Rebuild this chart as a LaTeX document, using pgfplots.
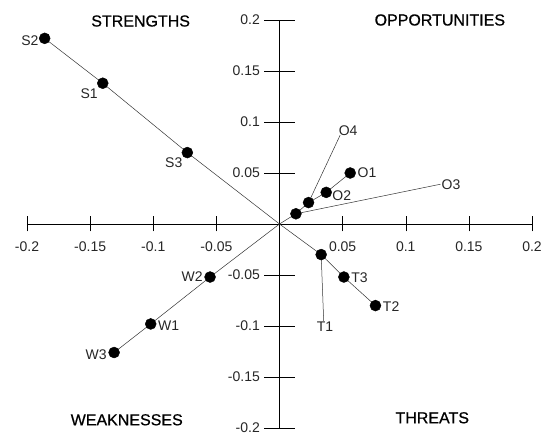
\documentclass[border=0pt]{standalone}
\usepackage{pgfplots}
\pgfplotsset{compat=1.18}
\usepackage{fontspec}
\setmainfont{Liberation Sans}
\newfontfamily\titlefont[FakeBold=0.6]{Liberation Sans}
\begin{document}
\begin{tikzpicture}
\begin{axis}[name=ax, scale only axis, width=505pt, height=408pt,
 xmin=-0.2,xmax=0.2,ymin=-0.2,ymax=0.2,
 axis lines=middle, axis line style={line width=0.5pt,-},
 xtick={-0.2,-0.15,-0.1,-0.05,0.05,0.1,0.15,0.2},
 ytick={-0.2,-0.15,-0.1,-0.05,0.05,0.1,0.15,0.2},
 tick align=center,
 xtick style={/pgfplots/major tick length=15pt, line width=0.5pt, black},
 ytick style={/pgfplots/major tick length=30pt, line width=0.5pt, black},
 /pgf/number format/fixed, /pgf/number format/assume math mode=true,
 ticklabel style={font=\fontsize{14}{16}\selectfont, text=black!85},
 xticklabel style={yshift=-12pt},
 yticklabel style={xshift=-14pt},
 clip=false]
% group lines from origin
\addplot[black!80, line width=0.5pt] coordinates {(0,0) (-0.073,0.070) (-0.140,0.138) (-0.186,0.182)};
\addplot[black!80, line width=0.5pt] coordinates {(0,0) (-0.055,-0.052) (-0.102,-0.098) (-0.131,-0.126)};
\addplot[black!80, line width=0.5pt] coordinates {(0,0) (0.013,0.010) (0.023,0.021) (0.037,0.031) (0.056,0.050)};
\addplot[black!80, line width=0.5pt] coordinates {(0,0) (0.033,-0.030) (0.051,-0.052) (0.076,-0.080)};
% leader lines
\addplot[black!80, line width=0.5pt] coordinates {(0.023,0.021) (0.048,0.087)};
\addplot[black!80, line width=0.5pt] coordinates {(0.013,0.010) (0.1275,0.039)};
\addplot[black!80, line width=0.5pt] coordinates {(0.033,-0.030) (0.035,-0.095)};
% points
\addplot[only marks, mark=*, mark size=5.5pt, black] coordinates {
(-0.073,0.070) (-0.140,0.138) (-0.186,0.182)
(-0.055,-0.052) (-0.102,-0.098) (-0.131,-0.126)
(0.013,0.010) (0.023,0.021) (0.037,0.031) (0.056,0.050)
(0.033,-0.030) (0.051,-0.052) (0.076,-0.080)};
% point labels
\begin{scope}[every node/.style={font=\fontsize{14}{16}\selectfont, text=black!85, inner sep=1pt}]
\node[anchor=east] at (axis cs:-0.190,0.180) {S2};
\node[anchor=north east] at (axis cs:-0.143,0.134) {S1};
\node[anchor=north east] at (axis cs:-0.076,0.066) {S3};
\node[anchor=east] at (axis cs:-0.060,-0.052) {W2};
\node[anchor=west] at (axis cs:-0.097,-0.100) {W1};
\node[anchor=east] at (axis cs:-0.136,-0.128) {W3};
\node[anchor=west] at (axis cs:0.061,0.050) {O1};
\node[anchor=west] at (axis cs:0.041,0.028) {O2};
\node[anchor=south west] at (axis cs:0.046,0.085) {O4};
\node[anchor=west] at (axis cs:0.1275,0.039) {O3};
\node[anchor=north] at (axis cs:0.036,-0.095) {T1};
\node[anchor=west] at (axis cs:0.056,-0.053) {T3};
\node[anchor=west] at (axis cs:0.081,-0.081) {T2};
\end{scope}
% quadrant titles
\begin{scope}[every node/.style={font=\titlefont\fontsize{16}{18}\selectfont, inner sep=0pt}]
\node at (axis cs:-0.110,0.199) {STRENGTHS};
\node at (axis cs:0.127,0.200) {OPPORTUNITIES};
\node at (axis cs:-0.121,-0.192) {WEAKNESSES};
\node at (axis cs:0.121,-0.190) {THREATS};
\end{scope}
\end{axis}
\pgfresetboundingbox
\path[use as bounding box] ([shift={(-27pt,-9pt)}]ax.south west) rectangle ([shift={(12pt,20pt)}]ax.north east);
\end{tikzpicture}
\end{document}
